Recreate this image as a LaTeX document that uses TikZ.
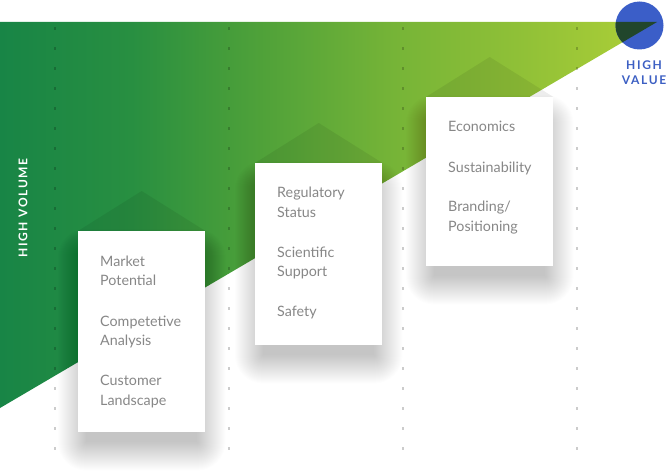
\documentclass[tikz,border=0pt]{standalone}
\usepackage{fontspec}
\setmainfont{Lato}
\newfontfamily\headfont[LetterSpace=14]{Lato}
\usetikzlibrary{calc}
\definecolor{g0}{RGB}{24,133,70}
\definecolor{g1}{RGB}{40,143,65}
\definecolor{g2}{RGB}{70,157,58}
\definecolor{g3}{RGB}{118,180,55}
\definecolor{g4}{RGB}{145,193,55}
\definecolor{g5}{RGB}{175,208,55}
\definecolor{bluec}{RGB}{59,94,200}
\definecolor{bluetext}{RGB}{60,95,195}
\definecolor{overlapc}{RGB}{33,70,44}
\definecolor{itemgray}{RGB}{135,135,135}
\pgfdeclarehorizontalshading{greengrad}{100bp}{color(0bp)=(g0); color(25bp)=(g0); color(35bp)=(g1); color(42.5bp)=(g2); color(55bp)=(g3); color(65bp)=(g4); color(75bp)=(g5); color(100bp)=(g5)}
\tikzset{
  cardbox/.style={fill=white, draw=none, inner sep=0pt, minimum width=127pt, anchor=north west},
  roofshape/.style={fill=black, fill opacity=0.07},
  shadowlayer/.style={fill=black, fill opacity=0.0072},
  dotc/.style={fill=black, fill opacity=0.2},
  itemtext/.style={font=\fontsize{14.3}{17}\selectfont, text=itemgray, anchor=base west, inner sep=0pt},
  headtext/.style={font=\headfont\bfseries\fontsize{12}{13}\selectfont, inner sep=0pt, anchor=base},
}
\begin{document}
\begin{tikzpicture}[x=1pt,y=-1pt]
\useasboundingbox (0,0) rectangle (666,473);
% big triangle
\coordinate (tl) at (0,22);
\coordinate (tr) at (657,22);
\coordinate (bl) at (0,408);
\shade[shading=greengrad] (tl) -- (tr) -- (bl) -- cycle;
% circle
\coordinate (cc) at (639.5,25.5);
\fill[bluec] (cc) circle (24);
\begin{scope}
  \clip (tl) -- (tr) -- (bl) -- cycle;
  \fill[overlapc] (cc) circle (24);
\end{scope}
% dotted columns
\foreach \x in {55,229,403,577}{
  \foreach \k in {0,...,21}{
    \fill[dotc] ({\x-1.3},{28.5+20*\k-1.3}) rectangle +(2.6,2.6);
  }
}
% cards (positions)
\node[cardbox, minimum height=201pt, fill=none] (c1) at (78,231) {};
\node[cardbox, minimum height=182pt, fill=none] (c2) at (255,163) {};
\node[cardbox, minimum height=169pt, fill=none] (c3) at (426,97) {};
% roofs
\foreach \c in {c1,c2,c3}{
  \fill[roofshape] (\c.north west) -- ([yshift=40pt]\c.north) -- (\c.north east) -- cycle;
}
% shadows
\foreach \c in {c1,c2,c3}{
  \foreach \r in {0,1,...,28}{
    \fill[shadowlayer, rounded corners=\r pt] ($(\c.north west)+(8-\r,26-\r)$) rectangle ($(\c.south east)+(-8+\r,10+\r)$);
  }
}
% card faces
\fill[white] (c1.north west) rectangle (c1.south east);
\fill[white] (c2.north west) rectangle (c2.south east);
\fill[white] (c3.north west) rectangle (c3.south east);
% card 1 text
\node[itemtext] (t11) at (100,266) {Market};
\node[itemtext] (t12) at (100,285.5) {Potential};
\node[itemtext] (t21) at (100,326) {Competetive};
\node[itemtext] (t22) at (100,345.5) {Analysis};
\node[itemtext] (t31) at (100,385.5) {Customer};
\node[itemtext] (t32) at (100,405) {Landscape};
% card 2 text
\node[itemtext] (u11) at (277,197.5) {Regulatory};
\node[itemtext] (u12) at (277,217) {Status};
\node[itemtext] (u21) at (277,257) {Scientific};
\node[itemtext] (u22) at (277,276.5) {Support};
\node[itemtext] (u31) at (277,316.5) {Safety};
% card 3 text
\node[itemtext] (v11) at (448,132) {Economics};
\node[itemtext] (v21) at (448,172) {Sustainability};
\node[itemtext] (v31) at (448,211.5) {Branding/};
\node[itemtext] (v32) at (448,231) {Positioning};
% heading labels
\node[headtext, text=white, rotate=90, anchor=center] (hvol) at (23,208) {HIGH VOLUME};
\node[headtext, text=bluetext] (hv1) at (644,70) {HIGH};
\node[headtext, text=bluetext] (hv2) at (644,84.5) {VALUE};
\end{tikzpicture}
\end{document}
